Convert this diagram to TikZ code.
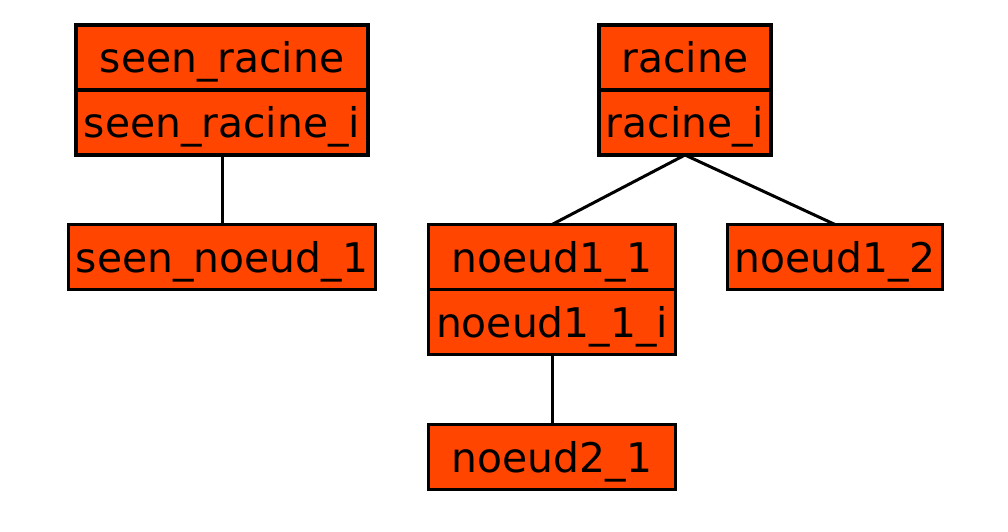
\documentclass[tikz,border=0pt]{standalone}
\usepackage{fontspec}
\setmainfont{DejaVu Sans}
\definecolor{boxfill}{HTML}{FF4500}
\begin{document}
\begin{tikzpicture}[x=1bp,y=-1bp,
  box/.style={draw=black,fill=boxfill,line width=3.4bp,inner sep=0pt,outer sep=0pt,
    minimum height=65bp,text height=31bp,text depth=0bp,
    font=\fontsize{41}{49}\selectfont,anchor=center},
  link/.style={draw=black,line width=3bp}]
\useasboundingbox (0,0) rectangle (1008,532);
\node[box,minimum width=292bp] (srt) at (222,57.5) {seen\_racine};
\node[box,minimum width=292bp] (srb) at (222,122.5) {seen\_racine\_i};
\node[box,minimum width=307bp] (sn1) at (222,257) {seen\_noeud\_1};
\node[box,minimum width=172bp] (rt) at (685,57.5) {racine};
\node[box,minimum width=172bp] (rb) at (685,122.5) {racine\_i};
\node[box,minimum width=247bp] (n11t) at (552,257) {noeud1\_1};
\node[box,minimum width=247bp] (n11b) at (552,322) {noeud1\_1\_i};
\node[box,minimum width=215bp] (n12) at (835,257) {noeud1\_2};
\node[box,minimum width=247bp] (n21) at (552,457) {noeud2\_1};
\draw[link] (srb.south) -- (sn1.north);
\draw[link] (rb.south) -- (n11t.north);
\draw[link] (rb.south) -- (n12.north);
\draw[link] (n11b.south) -- (n21.north);
\end{tikzpicture}
\end{document}
